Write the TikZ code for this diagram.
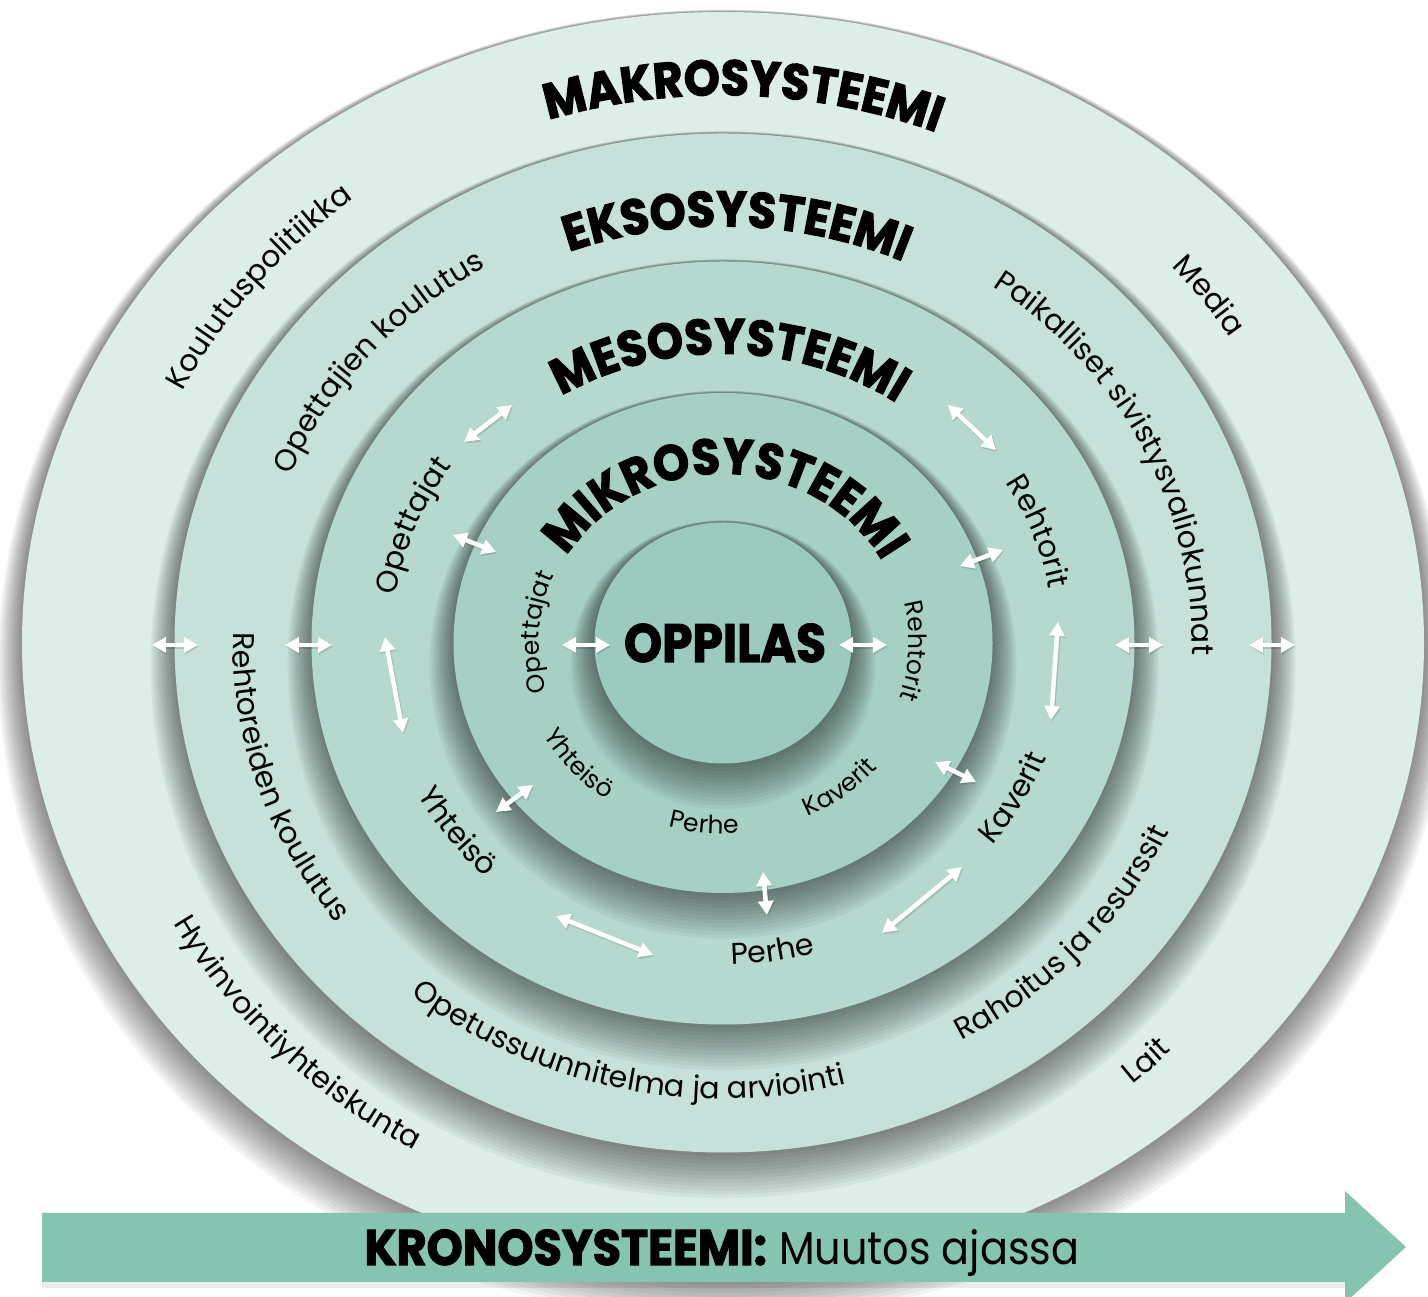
\documentclass[tikz,border=0pt]{standalone}
\usepackage{fontspec}
\setmainfont{Poppins}
\newfontfamily\hvfont{Poppins}[BoldFeatures={FakeBold=2.2,FakeStretch=0.92}]
\newfontfamily\oppfont{Poppins}[BoldFeatures={FakeBold=2,FakeStretch=0.9}]
\newfontfamily\narrowfont{Poppins}[FakeStretch=0.9]
\usetikzlibrary{decorations.text,arrows.meta,calc}
\definecolor{cMakro}{HTML}{DDEDE8}
\definecolor{cEkso}{HTML}{C5E1D9}
\definecolor{cMeso}{HTML}{B5D8CF}
\definecolor{cMikro}{HTML}{A7D0C5}
\definecolor{cOpp}{HTML}{9DCABE}
\definecolor{cBar}{HTML}{86C4B2}
\newcommand\myLab{\fontsize{30}{30}\selectfont}
\newcommand\mySml{\fontsize{25}{25}\selectfont}
\newcommand\myHead{\hvfont\bfseries\fontsize{50}{50}\selectfont}
\newcommand\discshadow[2]{\foreach \k in {1,...,12}{\fill[black,opacity=0.045] ($(C)+(0,-1.8*\k)$) ellipse[x radius={#1+2.0*\k},y radius={#2+2.0*\k}];}}
% clockwise arc text (tops outward): radius, centre angle, half span, font, text
\newcommand\cwlabel[5]{\path[decorate,decoration={text along path,text align=center,text={|#4|#5}}]
  ($(C)+({#2+#3}:{#1} and {0.93*#1})$) arc[start angle={#2+#3},end angle={#2-#3},x radius={#1},y radius={0.93*#1}];}
% counter-clockwise arc text (tops inward)
\newcommand\ccwlabel[5]{\path[decorate,decoration={text along path,text align=center,text={|#4|#5}}]
  ($(C)+({#2-#3}:{#1} and {0.93*#1})$) arc[start angle={#2-#3},end angle={#2+#3},x radius={#1},y radius={0.93*#1}];}
\tikzset{
  dblarrow/.style={white,line width=4.5pt,{Triangle[length=14pt,width=15pt]}-{Triangle[length=14pt,width=15pt]}},
  arrowshade/.style={black,opacity=0.12,line width=5pt,{Triangle[length=14pt,width=16pt]}-{Triangle[length=14pt,width=16pt]}}
}
\begin{document}
\begin{tikzpicture}[x=1pt,y=1pt]
\useasboundingbox (0,0) rectangle (1428,1297);
\fill[white] (0,0) rectangle (1428,1297);
\coordinate (C) at (723,654);
% discs
\discshadow{701}{631}
\fill[cMakro] (C) ellipse[x radius=701,y radius=631];
\discshadow{548.5}{509.5}
\fill[cEkso] (C) ellipse[x radius=548.5,y radius=509.5];
\discshadow{411.5}{381.5}
\fill[cMeso] (C) ellipse[x radius=411.5,y radius=381.5];
\discshadow{269.5}{250}
\fill[cMikro] (C) ellipse[x radius=269.5,y radius=250];
\discshadow{128.5}{120.5}
\fill[cOpp] (C) ellipse[x radius=128.5,y radius=120.5];
% headings
\cwlabel{589}{88}{25}{\myHead}{MAKROSYSTEEMI}
\cwlabel{448}{88.2}{30}{\myHead}{EKSOSYSTEEMI}
\cwlabel{311}{88.7}{40}{\myHead}{MESOSYSTEEMI}
\cwlabel{182}{89}{70}{\myHead}{MIKROSYSTEEMI}
% makro labels
\cwlabel{604}{140.7}{20}{\myLab}{Koulutuspolitiikka}
\cwlabel{604}{37.4}{10}{\myLab}{Media}
\ccwlabel{627}{224.4}{25}{\myLab}{Hyvinvointiyhteiskunta}
\ccwlabel{627}{313.3}{8}{\myLab}{Lait}
% ekso labels
\cwlabel{469}{139}{25}{\myLab}{Opettajien koulutus}
\cwlabel{469}{26.5}{35}{\myLab}{Paikalliset sivistysvaliokunnat}
\ccwlabel{490}{198.2}{25}{\myLab}{Rehtoreiden koulutus}
\ccwlabel{490}{257.4}{35}{\myLab}{Opetussuunnitelma ja arviointi}
\ccwlabel{490}{317.5}{25}{\myLab}{Rahoitus ja resurssit}
% meso labels
\cwlabel{331}{158.1}{18}{\myLab}{Opettajat}
\cwlabel{331}{20.6}{16}{\myLab}{Rehtorit}
\ccwlabel{346}{217.3}{15}{\myLab}{Yhteisö}
\ccwlabel{346}{278.5}{15}{\myLab}{Perhe}
\ccwlabel{346}{330.2}{15}{\myLab}{Kaverit}
% mikro labels
\cwlabel{184}{176.5}{25}{\mySml}{Opettajat}
\cwlabel{186}{-2.5}{22}{\mySml}{Rehtorit}
\ccwlabel{205}{222}{20}{\mySml}{Yhteisö}
\ccwlabel{205}{264.5}{15}{\mySml}{Perhe}
\ccwlabel{205}{306.8}{18}{\mySml}{Kaverit}
% centre
\node[anchor=base,inner sep=0pt,font=\oppfont\bfseries\fontsize{54}{54}\selectfont] (opp) at (725,635) {OPPILAS};
% arrow end points
\coordinate (a1s) at (152,652); \coordinate (a1e) at (198,652);
\coordinate (a2s) at (285,652); \coordinate (a2e) at (332,652);
\coordinate (a3s) at (562,652); \coordinate (a3e) at (610,652);
\coordinate (a4s) at (839,652); \coordinate (a4e) at (887,652);
\coordinate (a5s) at (1115,652); \coordinate (a5e) at (1163,652);
\coordinate (a6s) at (1249,652); \coordinate (a6e) at (1295,652);
\coordinate (b1s) at (464,855); \coordinate (b1e) at (512,892);
\coordinate (b2s) at (453,762); \coordinate (b2e) at (496,745);
\coordinate (b3s) at (385,660); \coordinate (b3e) at (403,564);
\coordinate (b4s) at (496,485); \coordinate (b4e) at (533,512);
\coordinate (b5s) at (556,381); \coordinate (b5e) at (653,342);
\coordinate (b6s) at (763,425); \coordinate (b6e) at (767,382);
\coordinate (b7s) at (882,364); \coordinate (b7e) at (962,430);
\coordinate (b8s) at (935,535); \coordinate (b8e) at (976,515);
\coordinate (b9s) at (1058,675); \coordinate (b9e) at (1051,577);
\coordinate (b10s) at (960,731); \coordinate (b10e) at (1003,747);
\coordinate (b11s) at (948,892); \coordinate (b11e) at (996,847);
\foreach \p in {a1,a2,a3,a4,a5,a6,b1,b2,b3,b4,b5,b6,b7,b8,b9,b10,b11}{
  \draw[arrowshade,transform canvas={shift={(1pt,-1.5pt)}}] (\p s) -- (\p e);
  \draw[dblarrow] (\p s) -- (\p e);
}
% chronosystem bar
\fill[black,opacity=0.08] (42,9) rectangle (1345,15);
\fill[cBar] (42,15) -- (1345,15) -- (1345,-6) -- (1406,50) -- (1345,106) -- (1345,84) -- (42,84) -- cycle;
\node[anchor=base,inner sep=0pt,font=\fontsize{46}{46}\selectfont] (krono) at (722,32) {{\hvfont\bfseries\fontsize{50}{50}\selectfont KRONOSYSTEEMI:} {\narrowfont Muutos ajassa}};
\end{tikzpicture}
\end{document}
